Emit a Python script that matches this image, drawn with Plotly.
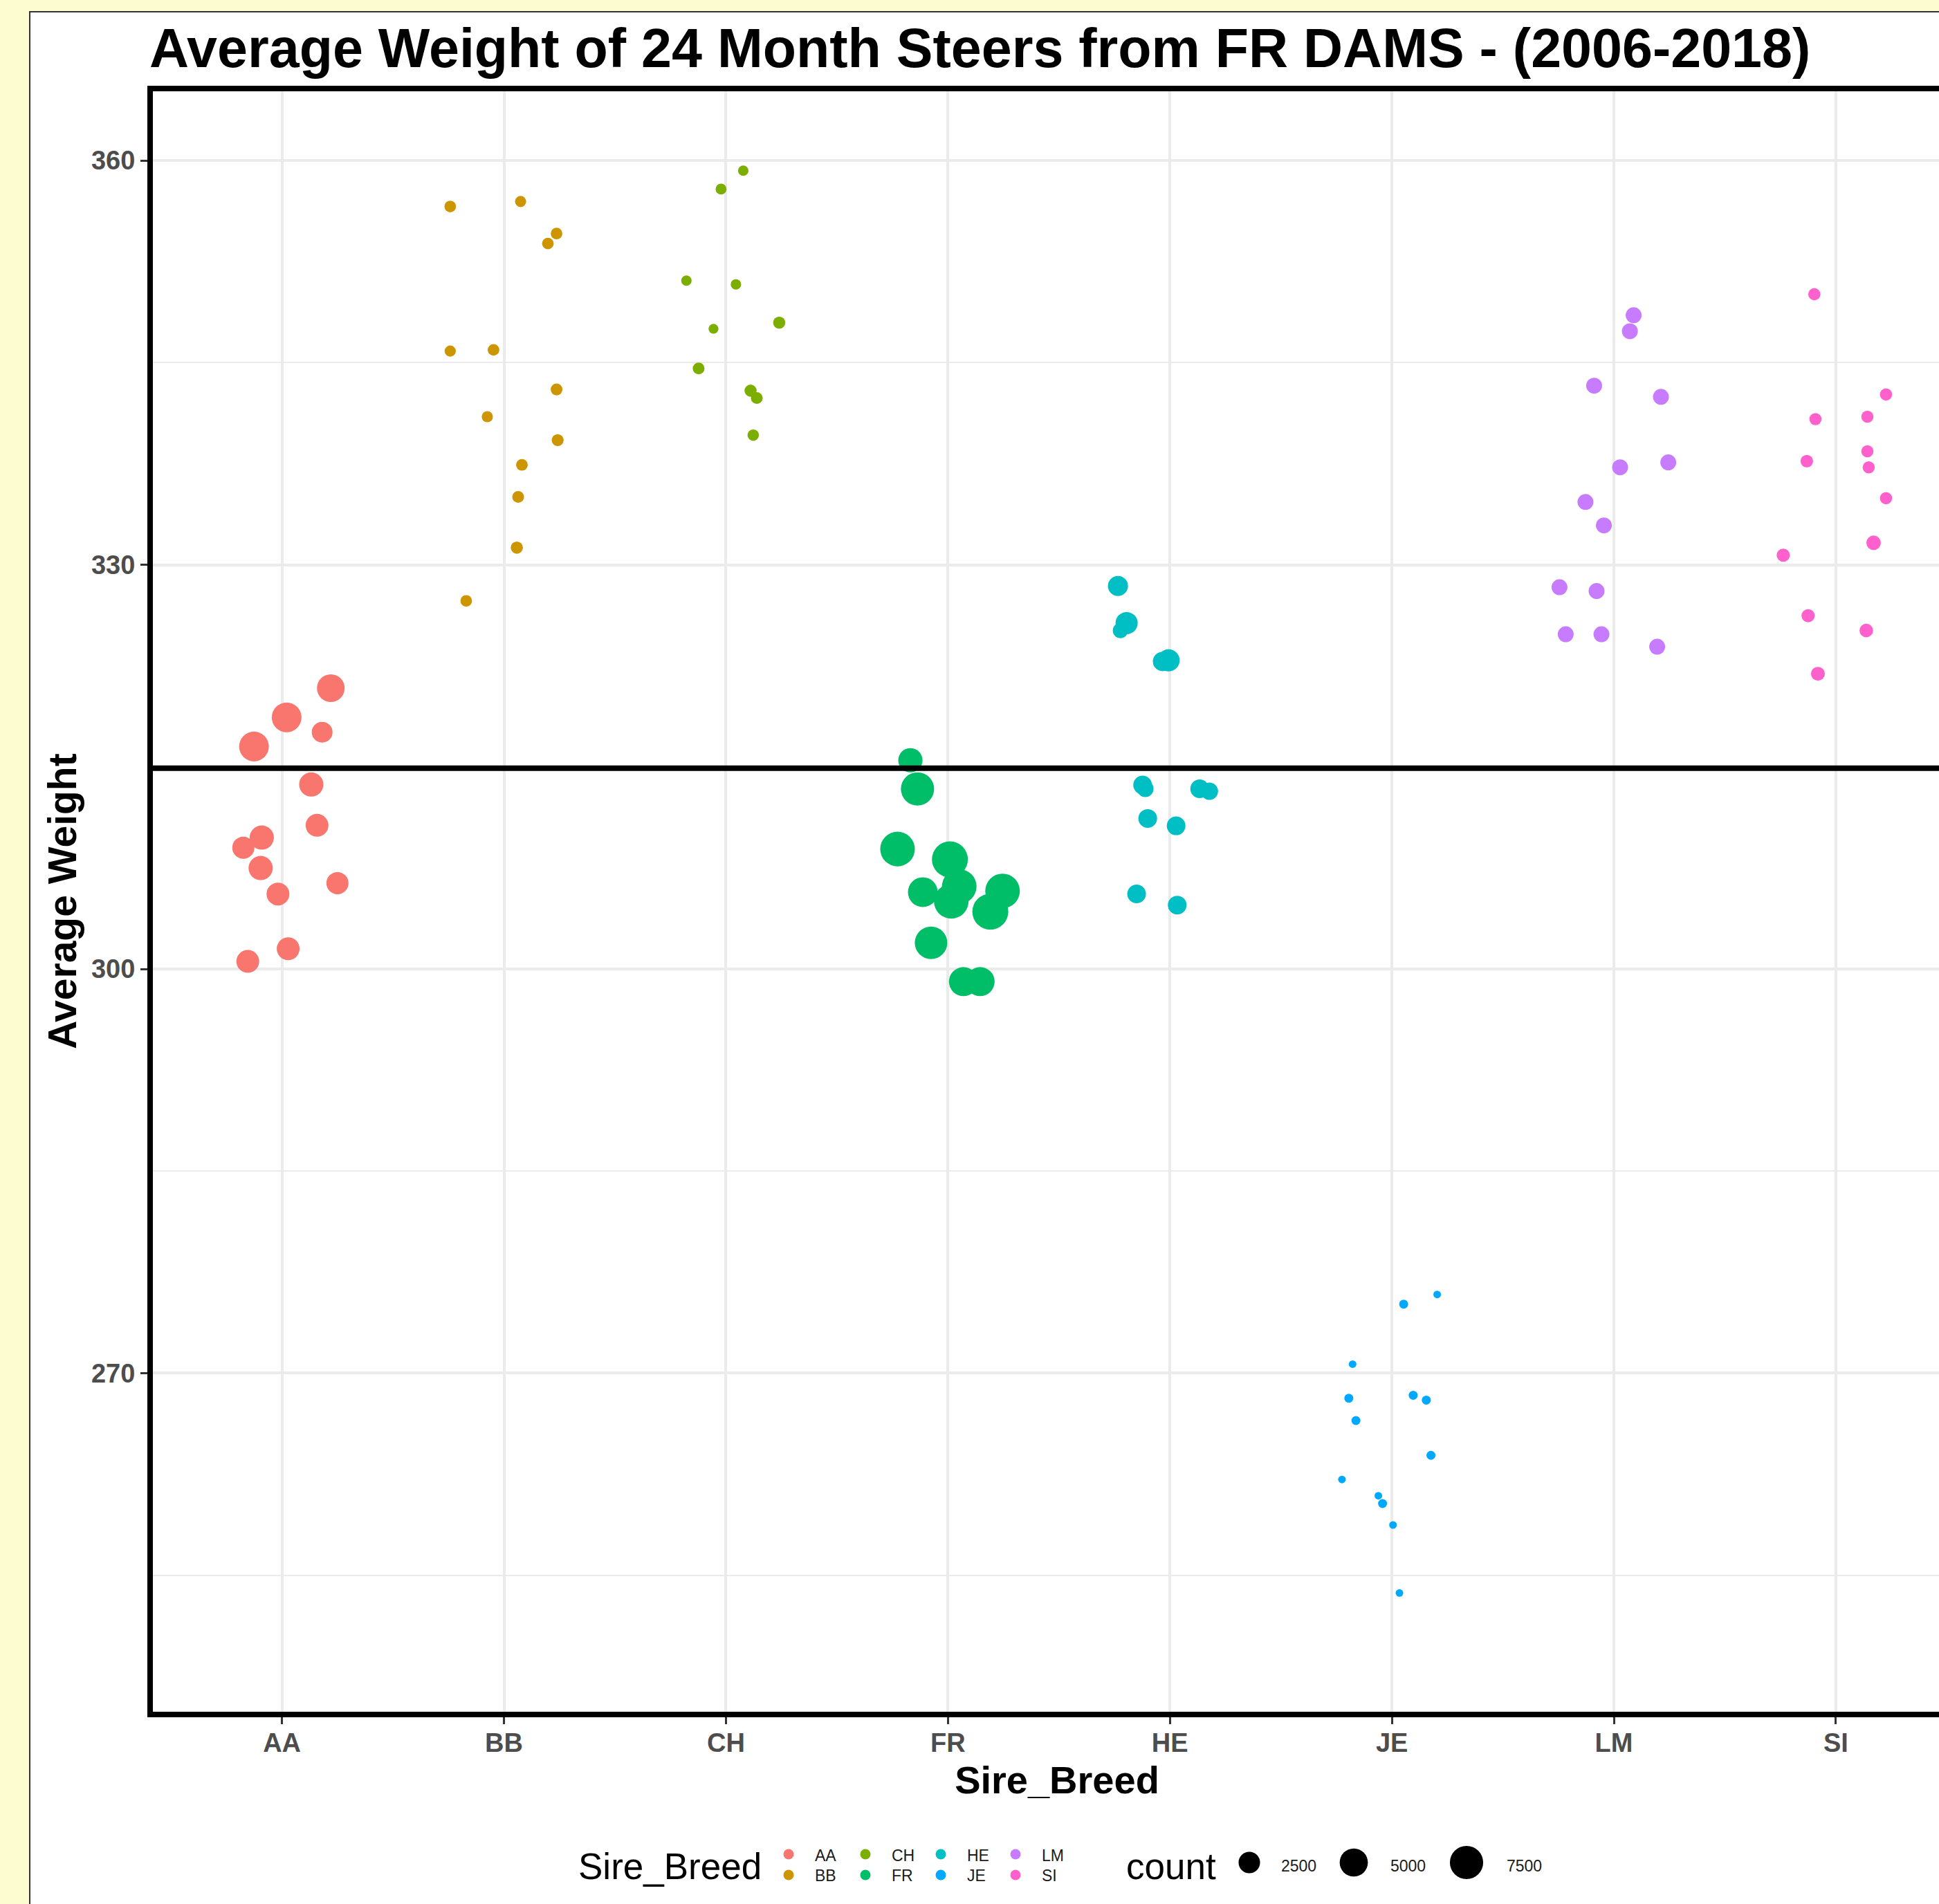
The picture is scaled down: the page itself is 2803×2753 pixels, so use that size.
import numpy as np
import plotly.graph_objects as go

# ---------------- data ----------------
breeds = ["AA", "BB", "CH", "FR", "HE", "JE", "LM", "SI"]
colors = ["#F8766D", "#CD9600", "#7CAE00", "#00BE67", "#00BFC4", "#00A9FF", "#C77CFF", "#FF61CC"]

# jitter offsets (relative to the category), average weight, count
aa_jit = [0.220, 0.021, 0.181, -0.126, 0.132, 0.158, -0.091, -0.174, -0.096, 0.250, -0.018, 0.028, -0.154]
aa_wt = [320.84, 318.67, 317.57, 316.51, 313.69, 310.66, 309.75, 309.00, 307.49, 306.37, 305.56, 301.50, 300.56]
aa_cnt = [4790, 5720, 2285, 5720, 3422, 2940, 3422, 2700, 3422, 2700, 2940, 2940, 2940]

bb_jit = [-0.242, 0.075, 0.237, 0.198, -0.242, -0.047, 0.237, -0.075, 0.242, 0.081, 0.064, 0.058, -0.170]
bb_wt = [356.59, 356.96, 354.58, 353.84, 345.86, 345.95, 343.01, 340.99, 339.25, 337.41, 335.03, 331.27, 327.32]
bb_cnt = [380, 330, 380, 380, 330, 380, 400, 330, 420, 380, 400, 450, 380]

ch_jit = [0.078, -0.022, -0.178, 0.045, -0.056, 0.240, -0.123, 0.111, 0.139, 0.123]
ch_wt = [359.25, 357.88, 351.09, 350.81, 347.51, 347.97, 344.57, 342.92, 342.37, 339.62]
ch_cnt = [250, 300, 250, 250, 200, 450, 400, 450, 400, 350]

fr_jit = [-0.169, -0.137, -0.227, 0.009, 0.051, -0.113, 0.015, 0.246, 0.191, -0.076, 0.070, 0.145]
fr_wt = [315.49, 313.36, 308.90, 308.13, 306.12, 305.70, 305.02, 305.79, 304.25, 301.94, 299.06, 299.06]
fr_cnt = [3422, 7450, 8210, 9000, 8210, 5720, 8210, 8210, 9000, 7070, 5390, 5390]

he_jit = [-0.234, -0.195, -0.223, -0.006, -0.033, -0.123, -0.111, 0.134, 0.178, -0.100, 0.028, -0.150, 0.033]
he_wt = [328.42, 325.67, 325.12, 322.91, 322.82, 313.65, 313.37, 313.37, 313.19, 311.17, 310.62, 305.57, 304.74]
he_cnt = [2077, 2705, 937, 2705, 1889, 1707, 1217, 1707, 1373, 1707, 1707, 1707, 1707]

je_jit = [0.204, 0.053, -0.177, -0.194, 0.096, 0.155, -0.162, 0.176, -0.225, -0.061, -0.042, 0.005, 0.034]
je_wt = [275.84, 275.12, 270.67, 268.14, 268.36, 268.00, 266.48, 263.90, 262.11, 260.90, 260.32, 258.73, 253.68]
je_cnt = [50, 130, 50, 130, 130, 130, 130, 130, 50, 50, 130, 50, 50]

lm_jit = [0.089, 0.072, -0.089, 0.212, 0.028, 0.245, -0.128, -0.045, -0.245, -0.078, -0.217, -0.056, 0.195]
lm_wt = [348.52, 347.33, 343.29, 342.46, 337.23, 337.60, 334.66, 332.92, 328.33, 328.05, 324.84, 324.84, 323.92]
lm_cnt = [1075, 1075, 1075, 1075, 1075, 1075, 1075, 1075, 1075, 1075, 1075, 1075, 1075]

si_jit = [-0.097, 0.226, 0.142, -0.092, 0.142, -0.131, 0.148, 0.226, 0.170, -0.237, -0.125, 0.137, -0.081]
si_wt = [350.08, 342.64, 340.99, 340.81, 338.42, 337.69, 337.23, 334.94, 331.63, 330.71, 326.22, 325.12, 321.91]
si_cnt = [450, 450, 450, 450, 450, 500, 450, 450, 800, 600, 600, 650, 700]

ref_weight = 314.9
y_ticks = [270, 300, 330, 360]
y_minor = [255, 285, 315, 345]
count_breaks = [2500, 5000, 7500]

jitters = [aa_jit, bb_jit, ch_jit, fr_jit, he_jit, je_jit, lm_jit, si_jit]
weights = [aa_wt, bb_wt, ch_wt, fr_wt, he_wt, je_wt, lm_wt, si_wt]
counts = [aa_cnt, bb_cnt, ch_cnt, fr_cnt, he_cnt, je_cnt, lm_cnt, si_cnt]

# ---------------- layout constants ----------------
W, H = 2803, 2753
ML, MT = 221, 132
PW, PH = W - ML, H - MT
FONT = "Liberation Sans, Arial, sans-serif"
main_bottom_px = 2475
ydom0 = (H - main_bottom_px) / PH
aux_frac = 0.09
x_range = [-0.5815, 7.4646]
y_range = [244.87, 365.14]

# size scale (area-like, as in ggplot scale_size)
all_c = np.concatenate([np.asarray(c, float) for c in counts])
S_LO, S_HI = np.sqrt(all_c.min()), np.sqrt(all_c.max())
D_MIN, D_MAX = 11.0, 52.0


def size_px(c):
    s = np.sqrt(np.asarray(c, float))
    return D_MIN + (s - S_LO) / (S_HI - S_LO) * (D_MAX - D_MIN)


fig = go.Figure()

for i, b in enumerate(breeds):
    fig.add_trace(go.Scatter(
        x=[i + j for j in jitters[i]], y=weights[i], mode="markers",
        marker=dict(color=colors[i], size=size_px(counts[i]), opacity=1, line=dict(width=0)),
        name=b, showlegend=False, xaxis="x", yaxis="y", hoverinfo="x+y"))

# ---------------- legend drawn on an auxiliary (pixel) subplot ----------------
key_col_x = [1140, 1251, 1360, 1468]
key_row_y = [2681, 2711]
lab_row_y = [2685, 2714]
key_x = [key_col_x[i // 2] for i in range(len(breeds))]
key_y = [key_row_y[i % 2] for i in range(len(breeds))]
lab_y = [lab_row_y[i % 2] for i in range(len(breeds))]

fig.add_trace(go.Scatter(
    x=key_x, y=key_y, mode="markers", xaxis="x2", yaxis="y2",
    marker=dict(color=colors, size=15, opacity=1, line=dict(width=0)),
    showlegend=False, hoverinfo="skip", cliponaxis=False))
fig.add_trace(go.Scatter(
    x=[v + 38 for v in key_x], y=lab_y, mode="text", text=breeds,
    textposition="middle right", xaxis="x2", yaxis="y2",
    textfont=dict(family=FONT, size=23, color="#1A1A1A"),
    showlegend=False, hoverinfo="skip", cliponaxis=False))

cnt_dot_x = [1806, 1957, 2120]
fig.add_trace(go.Scatter(
    x=cnt_dot_x, y=[2693] * 3, mode="markers", xaxis="x2", yaxis="y2",
    marker=dict(color="black", size=size_px(count_breaks), opacity=1, line=dict(width=0)),
    showlegend=False, hoverinfo="skip", cliponaxis=False))
fig.add_trace(go.Scatter(
    x=[1852, 2010, 2178], y=[2700] * 3, mode="text", text=[str(v) for v in count_breaks],
    textposition="middle right", xaxis="x2", yaxis="y2",
    textfont=dict(family=FONT, size=23, color="#1A1A1A"),
    showlegend=False, hoverinfo="skip", cliponaxis=False))

# legend titles
fig.add_trace(go.Scatter(
    x=[836, 1628], y=[2704, 2704], mode="text", text=["Sire_Breed", "count"],
    textposition="middle right", xaxis="x2", yaxis="y2",
    textfont=dict(family=FONT, size=53, color="black"),
    showlegend=False, hoverinfo="skip", cliponaxis=False))

# x axis title
fig.add_trace(go.Scatter(
    x=[1528], y=[2579], mode="text", text=["Sire_Breed"],
    textposition="middle center", xaxis="x2", yaxis="y2",
    textfont=dict(family=FONT, size=56, color="black", weight="bold"),
    showlegend=False, hoverinfo="skip", cliponaxis=False))

# y axis title
fig.add_annotation(
    text="Average Weight", textangle=-90, showarrow=False,
    xref="paper", yref="paper", x=(90 - ML) / PW, y=(H - 1303) / PH,
    xanchor="center", yanchor="middle",
    font=dict(family=FONT, size=57, color="black", weight="bold"))

# reference line
fig.add_shape(type="line", xref="x domain", x0=0, x1=1, yref="y",
              y0=ref_weight, y1=ref_weight, line=dict(color="black", width=8),
              layer="above")

# outer white panel with thin border
fig.add_shape(type="rect", xref="paper", yref="paper",
              x0=(43 - ML) / PW, x1=1.02, y0=-0.02, y1=(H - 17) / PH,
              fillcolor="white", line=dict(color="#333333", width=2), layer="below")

axis_common = dict(
    showline=True, linewidth=8, linecolor="black",
    ticks="outside", ticklen=10, tickwidth=3, tickcolor="#333333",
    tickfont=dict(family=FONT, size=38, color="#4D4D4D", weight="bold"),
    showgrid=True, gridcolor="#EBEBEB", gridwidth=3.5, zeroline=False, fixedrange=True,
)

fig.update_layout(
    width=W, height=H,
    margin=dict(l=ML, r=0, t=MT, b=0, pad=0),
    paper_bgcolor="#FCFCD0", plot_bgcolor="rgba(0,0,0,0)",
    showlegend=False,
    title=dict(text="Average Weight of 24 Month Steers from FR DAMS - (2006-2018)",
               font=dict(family=FONT, size=79, color="black", weight="bold"),
               xref="container", x=216 / W, xanchor="left",
               yref="container", y=1 - 69.7 / H, yanchor="middle"),
    xaxis=dict(domain=[0, 1], range=x_range, anchor="y", mirror=True,
               tickmode="array", tickvals=list(range(len(breeds))), ticktext=breeds,
               ticklabelstandoff=-6,
               **axis_common),
    yaxis=dict(domain=[ydom0, 1], range=y_range, anchor="x",
               tickmode="array", tickvals=y_ticks,
               minor=dict(tickmode="array", tickvals=y_minor, showgrid=True,
                          gridcolor="#EBEBEB", gridwidth=2, ticks=""),
               **axis_common),
    xaxis2=dict(domain=[0, 1], range=[ML, W], anchor="y2", visible=False, fixedrange=True),
    yaxis2=dict(domain=[0, aux_frac], range=[H, H - aux_frac * PH], anchor="x2",
                visible=False, fixedrange=True),
    hovermode="closest",
)

fig.write_html("out.html", config={"displayModeBar": False},
               post_script="document.body.style.margin='0';document.body.style.overflow='hidden';")
